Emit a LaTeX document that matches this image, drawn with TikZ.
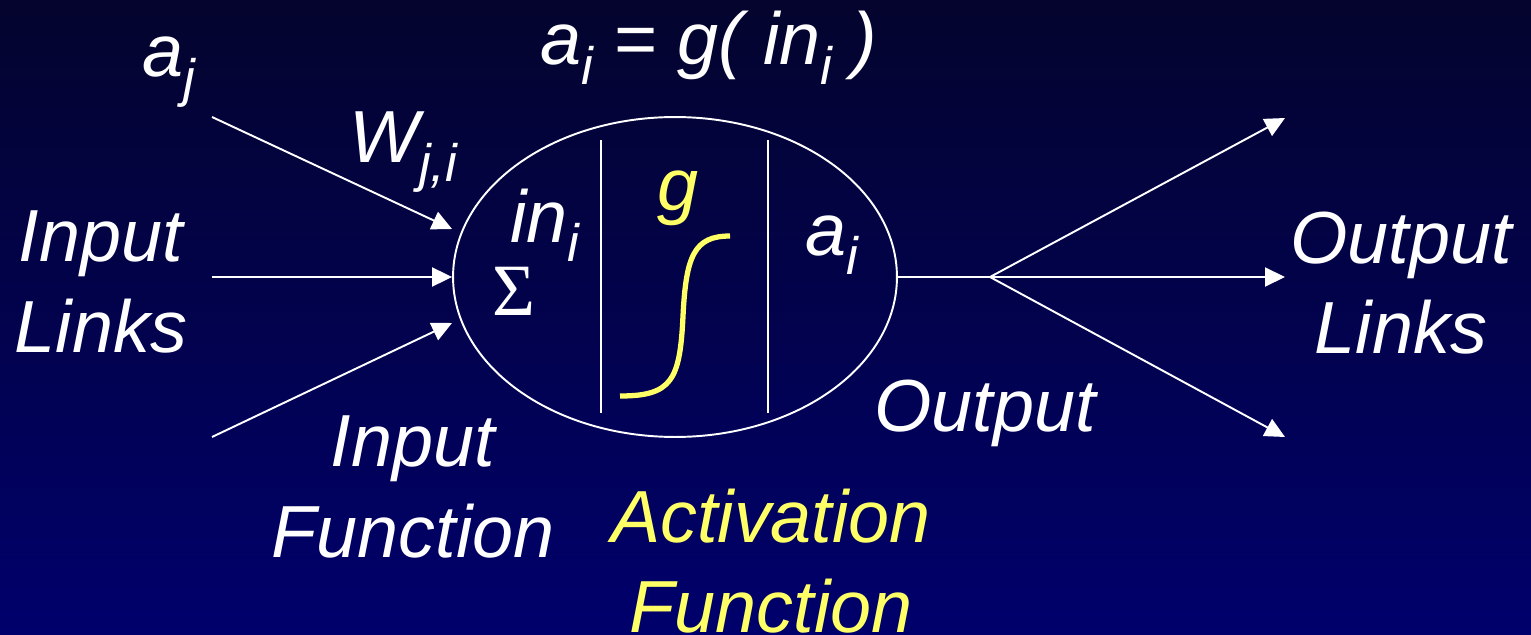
\documentclass[tikz,border=0pt]{standalone}
\usepackage{fontspec}
\setmainfont{Liberation Sans}
\newfontfamily\serifsym{Liberation Serif}
\usepackage{tikz}
\usetikzlibrary{arrows.meta,shapes.geometric}
\definecolor{bgtop}{RGB}{4,4,46}
\definecolor{bgbot}{RGB}{0,0,108}
\definecolor{actyel}{RGB}{255,255,102}
\newcommand{\lowsub}[1]{\raisebox{-0.26em}{\fontsize{30}{30}\selectfont #1}}

\begin{document}
\begin{tikzpicture}[
  x=0.02cm, y=-0.02cm,
  lab/.style={text=white, inner sep=0pt, font=\fontsize{42}{51.5}\selectfont\itshape},
  yel/.style={lab, text=actyel},
  cell/.style={ellipse, draw=white, line width=1.1pt, minimum width=8.88cm,
               minimum height=6.4cm, inner sep=0pt},
  wire/.style={draw=white, line width=1.1pt},
  link/.style={wire, -{Triangle[length=0.4cm, width=0.38cm]}},
  divider/.style={draw=white, line width=1pt},
  sigmoid/.style={draw=actyel, line width=3pt}
]
\useasboundingbox (0,0) rectangle (1531,635);
\shade[top color=bgtop, bottom color=bgbot] (0,0) rectangle (1531,635);

% the unit
\node[cell] (neuron) at (675,277) {};
\draw[divider] (601,140) -- (601,413);
\draw[divider] (768,140) -- (768,413);
\draw[sigmoid] (620,396) .. controls (672,396) and (680,380) .. (683,316)
      .. controls (686,256) and (694,236) .. (730,236);

% input side
\coordinate (src1) at (212,117);
\coordinate (src2) at (212,277);
\coordinate (src3) at (212,437);
\coordinate (dst1) at (452,229);
\coordinate (dst3) at (452,323);
\draw[link] (src1) -- (dst1);
\draw[link] (src2) -- (neuron.west);
\draw[link] (src3) -- (dst3);

% output side
\coordinate (fork) at (990,277);
\coordinate (out1) at (1285,118);
\coordinate (out2) at (1285,277);
\coordinate (out3) at (1285,437);
\draw[wire] (neuron.east) -- (fork);
\draw[link] (fork) -- (out1);
\draw[link] (fork) -- (out2);
\draw[link] (fork) -- (out3);

\node[lab, anchor=base west] (aj)  at (142,77)  {a\lowsub{j}};
\node[lab, anchor=base west] (eqn) at (540,65)  {a\lowsub{i} = g( in\lowsub{i} )};
\node[lab, anchor=base west] (wji) at (349,162) {W\lowsub{j,i}};
\node[lab, anchor=base west] (ini) at (510,242) {in\lowsub{i}};
\node[lab, anchor=base west, font=\fontsize{42}{52}\selectfont\serifsym] (sig) at (492,315) {Σ};
\node[yel, anchor=base west] (gfn) at (657,210) {g};
\node[lab, anchor=base west] (ai)  at (805,255) {a\lowsub{i}};
\node[lab, anchor=base west] (outp) at (874,431) {Output};

\node[lab, align=center] (inlinks)  at (101,282)  {Input\\Links};
\node[lab, align=center] (outlinks) at (1401,283) {Output\\Links};
\node[lab, align=center] (infunc)   at (413,487)  {Input\\Function};
\node[yel, align=center] (actfunc)  at (771,561)  {Activation\\Function};

\end{tikzpicture}
\end{document}
